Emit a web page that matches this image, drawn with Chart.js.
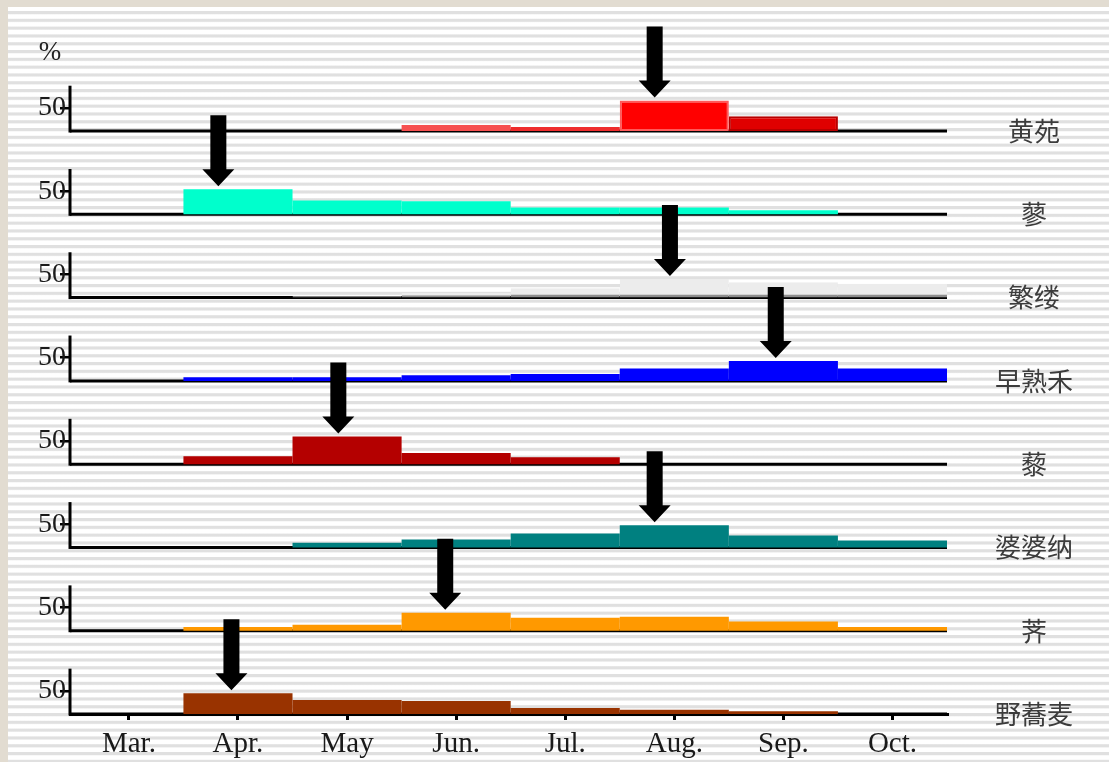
<!DOCTYPE html>
<html>
<head>
<meta charset="utf-8">
<script src="https://cdn.jsdelivr.net/npm/chart.js@4/dist/chart.umd.min.js"></script>
<style>
  html, body { margin: 0; padding: 0; background: #e2dcd1; }
  #wrap { position: relative; width: 1109px; height: 762px; overflow: hidden; }
  #bg { position: absolute; left: 8px; top: 7px; right: 0; bottom: 0;
        background: repeating-linear-gradient(180deg, #ffffff 0px, #ffffff 3.5px, #e0e0e0 4.5px, #e0e0e0 6.5px, #ffffff 7.8px); }
  #c { position: absolute; left: 0; top: 0; }
</style>
</head>
<body>
<div id="wrap"><div id="bg"></div><canvas id="c" width="1109" height="762"></canvas></div>
<script>
// ---- data ----
const monthTickValues = [3, 4, 5, 6, 7, 8, 9, 10];
const monthTickLabels = ['Mar.', 'Apr.', 'May', 'Jun.', 'Jul.', 'Aug.', 'Sep.', 'Oct.'];
const binMonths = [4, 5, 6, 7, 8, 9, 10]; // Apr..Oct
const speciesNames = ['黄苑', '蓼', '繁缕', '早熟禾', '藜', '婆婆纳', '荠', '野蕎麦'];
const huangyuan = [0, 0, 13, 9, 66, 32, 0];
const liao      = [54, 30, 28, 15, 15, 9, 0];
const fanlv     = [0, 3, 10, 20, 40, 33, 30];
const zaoshuhe  = [8, 8, 12, 15, 27, 43, 27];
const li        = [17, 60, 24, 15, 0, 0, 0];
const popona    = [0, 10, 17, 30, 48, 26, 15];
const ji        = [8, 13, 39, 28, 30, 20, 8];
const yeqiaomai = [45, 30, 28, 13, 9, 6, 0];
const seriesValues = [huangyuan, liao, fanlv, zaoshuhe, li, popona, ji, yeqiaomai];
const arrowMonth = [7.82, 3.82, 7.96, 8.93, 4.92, 7.82, 5.9, 3.94];
const tickPercent = 50;
const rowStep = 180;      // value units between row baselines
const axisTopPercent = 98;

// ---- styles ----
const rowColors = [
  ['#f65050', '#f65050', '#f65050', '#ee2c2c', '#ff0000', '#e00000', '#e00000'],
  '#00ffcc', '#ececec', '#0000ff', '#b40000', '#008080', '#ff9900', '#993300'
];
const rowBorderColors = [
  ['#f65050', '#f65050', '#f65050', '#ee2c2c', '#ff5a5a', '#b80000', '#b80000'],
  '#00ffcc', '#8e8e8e', '#0000ff', '#b40000', '#008080', '#ff9900', '#993300'
];
const rowBorderWidths = [
  [0, 0, 0, 0, 2, 2, 0], 0, {top: 0, left: 0, right: 0, bottom: 3}, 0, 0, 0, 0, 0
];

const nRows = seriesValues.length;
const rowBase = i => (nRows - 1 - i) * rowStep;

const datasets = seriesValues.map((vals, i) => ({
  label: speciesNames[i],
  data: binMonths.map((m, k) => ({ x: m, y: vals[k] > 0 ? [rowBase(i), rowBase(i) + vals[k]] : null })),
  backgroundColor: rowColors[i],
  borderColor: rowBorderColors[i],
  borderWidth: rowBorderWidths[i],
  borderSkipped: false,
  inflateAmount: 0,
  grouped: false,
  barPercentage: 1,
  categoryPercentage: 1
}));

const decor = {
  id: 'decor',
  beforeDatasetsDraw(chart) {
    const {ctx, chartArea, scales: {x, y}} = chart;
    ctx.save();
    ctx.strokeStyle = '#000';
    ctx.lineWidth = 3;
    for (let i = 0; i < nRows; i++) {
      const yb = y.getPixelForValue(rowBase(i));
      const yt = y.getPixelForValue(rowBase(i) + axisTopPercent);
      ctx.beginPath();
      ctx.moveTo(chartArea.left, yb);
      ctx.lineTo(chartArea.right, yb);
      ctx.stroke();
      ctx.beginPath();
      ctx.moveTo(chartArea.left, yb + 1.5);
      ctx.lineTo(chartArea.left, yt);
      ctx.stroke();
    }
    ctx.restore();
  },
  afterDatasetsDraw(chart) {
    const {ctx, chartArea, scales: {x, y}} = chart;
    ctx.save();
    // arrows
    ctx.fillStyle = '#000';
    for (let i = 0; i < nRows; i++) {
      const peak = Math.max(...seriesValues[i]);
      const cx = x.getPixelForValue(arrowMonth[i]);
      const tip = y.getPixelForValue(rowBase(i) + peak) - 3;
      const len = 71, headH = 17, shaftW = 16, headW = 32;
      ctx.beginPath();
      ctx.moveTo(cx - shaftW / 2, tip - len);
      ctx.lineTo(cx + shaftW / 2, tip - len);
      ctx.lineTo(cx + shaftW / 2, tip - headH);
      ctx.lineTo(cx + headW / 2, tip - headH);
      ctx.lineTo(cx, tip);
      ctx.lineTo(cx - headW / 2, tip - headH);
      ctx.lineTo(cx - shaftW / 2, tip - headH);
      ctx.closePath();
      ctx.fill();
    }
    // species labels
    ctx.fillStyle = '#3c3c3c';
    ctx.font = '26px "Noto Sans CJK JP"';
    ctx.textAlign = 'center';
    ctx.textBaseline = 'middle';
    for (let i = 0; i < nRows; i++) {
      ctx.fillText(speciesNames[i], chartArea.right + 87, y.getPixelForValue(rowBase(i)));
    }
    // percent sign
    ctx.fillStyle = '#222';
    ctx.font = '27px "Liberation Serif"';
    ctx.fillText('%', 50, 53);
    ctx.restore();
  }
};

new Chart(document.getElementById('c'), {
  type: 'bar',
  data: { datasets },
  options: {
    responsive: false,
    animation: false,
    devicePixelRatio: 1,
    layout: { padding: { top: 20, right: 162, left: 0, bottom: 0 } },
    plugins: { legend: { display: false }, tooltip: { enabled: false } },
    scales: {
      x: {
        type: 'linear',
        offset: false,
        min: 2.46, max: 10.5,
        afterBuildTicks: s => { s.ticks = monthTickValues.map(v => ({ value: v })); },
        afterFit: s => { s.height = 48; },
        ticks: {
          autoSkip: false, maxRotation: 0, padding: 7,
          color: '#1a1a1a',
          font: { family: 'Liberation Serif', size: 29 },
          callback: v => monthTickLabels[monthTickValues.indexOf(v)]
        },
        grid: { offset: false, drawOnChartArea: false, drawTicks: true, tickLength: 6, color: '#000', lineWidth: 3 },
        border: { display: true, color: '#000', width: 3 }
      },
      y: {
        type: 'linear',
        min: 0, max: 1500,
        afterBuildTicks: s => { s.ticks = speciesNames.map((n, i) => ({ value: rowBase(i) + tickPercent })); },
        afterFit: s => { s.width = 70; },
        ticks: {
          autoSkip: false, padding: -6,
          color: '#1a1a1a',
          font: { family: 'Liberation Serif', size: 28 },
          callback: () => String(tickPercent)
        },
        grid: { drawOnChartArea: false, drawTicks: true, tickLength: 10, color: '#000', lineWidth: 2.5 },
        border: { display: false }
      }
    }
  },
  plugins: [decor]
});
</script>
</body>
</html>
